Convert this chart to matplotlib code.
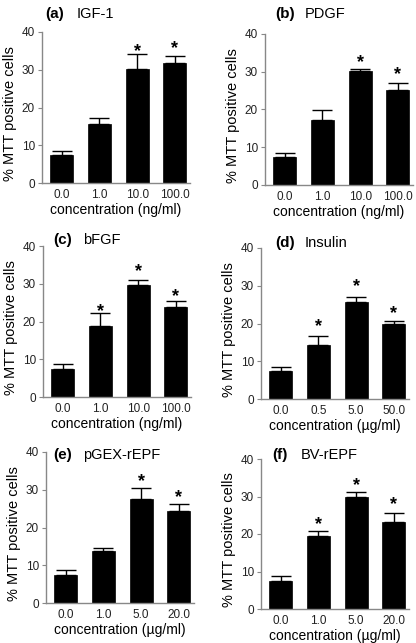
import matplotlib
matplotlib.use("Agg")
import matplotlib.pyplot as plt

plt.rcParams['font.family'] = ['Liberation Sans', 'DejaVu Sans']

# ---- data ----
letters = ["(a)", "(b)", "(c)", "(d)", "(e)", "(f)"]
names = ["IGF-1", "PDGF", "bFGF", "Insulin", "pGEX-rEPF", "BV-rEPF"]
tick_labels = [
    ["0.0", "1.0", "10.0", "100.0"],
    ["0.0", "1.0", "10.0", "100.0"],
    ["0.0", "1.0", "10.0", "100.0"],
    ["0.0", "0.5", "5.0", "50.0"],
    ["0.0", "1.0", "5.0", "20.0"],
    ["0.0", "1.0", "5.0", "20.0"],
]
xlabels = ["concentration (ng/ml)", "concentration (ng/ml)", "concentration (ng/ml)",
           "concentration (\u00b5g/ml)", "concentration (\u00b5g/ml)", "concentration (\u00b5g/ml)"]

means_a = [7.4, 15.6, 30.3, 31.9]
errs_a = [1.2, 1.7, 3.9, 1.8]
means_b = [7.4, 17.2, 30.2, 25.1]
errs_b = [1.2, 2.7, 0.6, 1.8]
means_c = [7.5, 18.7, 29.7, 23.8]
errs_c = [1.2, 3.5, 1.3, 1.5]
means_d = [7.3, 14.2, 25.8, 19.9]
errs_d = [1.3, 2.5, 1.2, 0.8]
means_e = [7.5, 13.7, 27.6, 24.5]
errs_e = [1.2, 1.0, 2.8, 1.8]
means_f = [7.5, 19.4, 30.0, 23.3]
errs_f = [1.4, 1.3, 1.1, 2.3]
means = [means_a, means_b, means_c, means_d, means_e, means_f]
errs = [errs_a, errs_b, errs_c, errs_d, errs_e, errs_f]

# significance stars: (bar index, y value)
stars = [
    [(2, 36.5), (3, 37.3)],
    [(2, 34.1), (3, 30.9)],
    [(1, 24.3), (2, 34.7), (3, 28.1)],
    [(1, 20.7), (2, 31.4), (3, 24.2)],
    [(2, 33.7), (3, 29.5)],
    [(1, 24.2), (2, 34.5), (3, 29.3)],
]

W, H = 416, 643
fig = plt.figure(figsize=(W / 100, H / 100), dpi=100)

# axes pixel geometry: (left, top(y=40), bottom(y=0))
geom = [(42, 32, 183), (265, 34, 185), (43, 246, 397),
        (261, 248, 399), (46, 452, 603), (261, 459, 609)]
width_px = 148
title_pos = [(45, 14), (275, 14), (53, 240), (275, 243), (53, 455), (272, 455)]
name_dx = [32, 30, 30, 30, 30, 29]

spine_col = "#888888"
for i in range(6):
    l, t, b = geom[i]
    hpx = b - t
    ax = fig.add_axes([l / W, 1 - b / H, width_px / W, hpx / H])
    x = list(range(4))
    ax.bar(x, means[i], width=0.61, color="black", edgecolor="black", linewidth=0.5)
    ax.errorbar(x, means[i], yerr=[[0] * 4, errs[i]], fmt="none", ecolor="black",
                elinewidth=1.0, capsize=7, capthick=1.0)
    for (k, yv) in stars[i]:
        ax.annotate("*", (k, yv), xytext=(0, -7.5), textcoords="offset points",
                    ha="center", va="baseline", fontsize=13, fontweight="bold")
    ax.set_xlim(-0.52, 3.4)
    ax.set_ylim(0, 40)
    ax.set_yticks([0, 10, 20, 30, 40])
    ax.set_xticks(x)
    ax.set_xticklabels(tick_labels[i])
    ax.tick_params(axis="x", length=0, pad=4, labelsize=8.5, labelcolor="#222222")
    ax.tick_params(axis="y", length=3, width=0.8, color=spine_col, pad=2,
                   labelsize=8.5, labelcolor="#222222")
    for s in ["top", "right"]:
        ax.spines[s].set_visible(False)
    for s in ["left", "bottom"]:
        ax.spines[s].set_color(spine_col)
        ax.spines[s].set_linewidth(1.0)
    ax.set_ylabel("% MTT positive cells", fontsize=10.5)
    ax.yaxis.set_label_coords(-25 / width_px, 0.5 - 6 / hpx)
    ax.set_xlabel(xlabels[i], fontsize=10, labelpad=2)
    tx, ty = title_pos[i]
    fig.text(tx / W, 1 - ty / H, letters[i], fontsize=11, fontweight="bold",
             ha="left", va="center")
    fig.text((tx + name_dx[i]) / W, 1 - ty / H, names[i], fontsize=10.5,
             ha="left", va="center")

fig.savefig("out.png", dpi=100)
